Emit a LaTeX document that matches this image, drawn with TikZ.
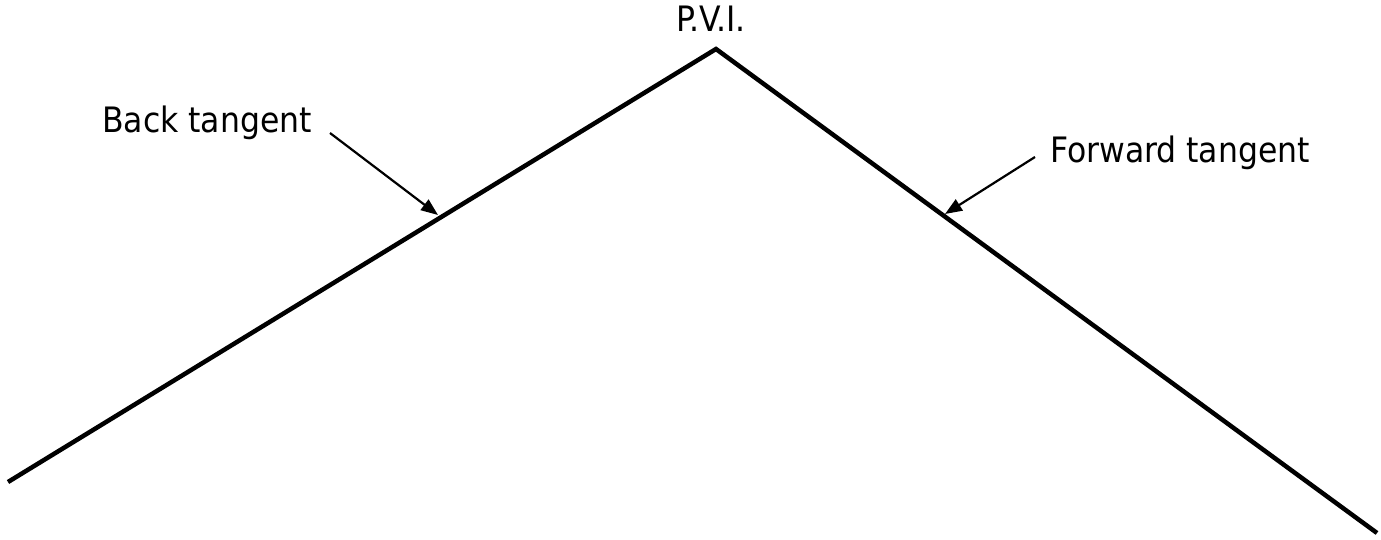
\documentclass[tikz,border=0pt]{standalone}
\usepackage{fontspec}
\setmainfont{DejaVu Sans Condensed}
\usetikzlibrary{arrows.meta}
\tikzset{
  tangent/.style={line width=4.5pt,line cap=butt},
  pointer/.style={line width=2.2pt,-{Triangle[length=17pt,width=13pt]}},
  label/.style={inner sep=0pt,font=\fontsize{35}{40}\selectfont}
}
\begin{document}
\begin{tikzpicture}[x=1pt,y=-1pt]
\useasboundingbox (0,0) rectangle (1381,540);
\coordinate (start) at (8,482);
\coordinate (pvi) at (716,49);
\coordinate (end) at (1377,533);
\draw[tangent,line join=miter] (start) -- (pvi) -- (end);

\node[label,anchor=base] (pvitext) at (711,32) {P.V.I.};
\node[label,anchor=base west] (back) at (102,133) {Back tangent};
\node[label,anchor=base west] (fwd) at (1050,163) {Forward tangent};

\coordinate (backtail) at (330,133);
\coordinate (backtip) at (438,215);
\coordinate (fwdtail) at (1035,157);
\coordinate (fwdtip) at (945,214);
\draw[pointer] (backtail) -- (backtip);
\draw[pointer] (fwdtail) -- (fwdtip);
\end{tikzpicture}
\end{document}
